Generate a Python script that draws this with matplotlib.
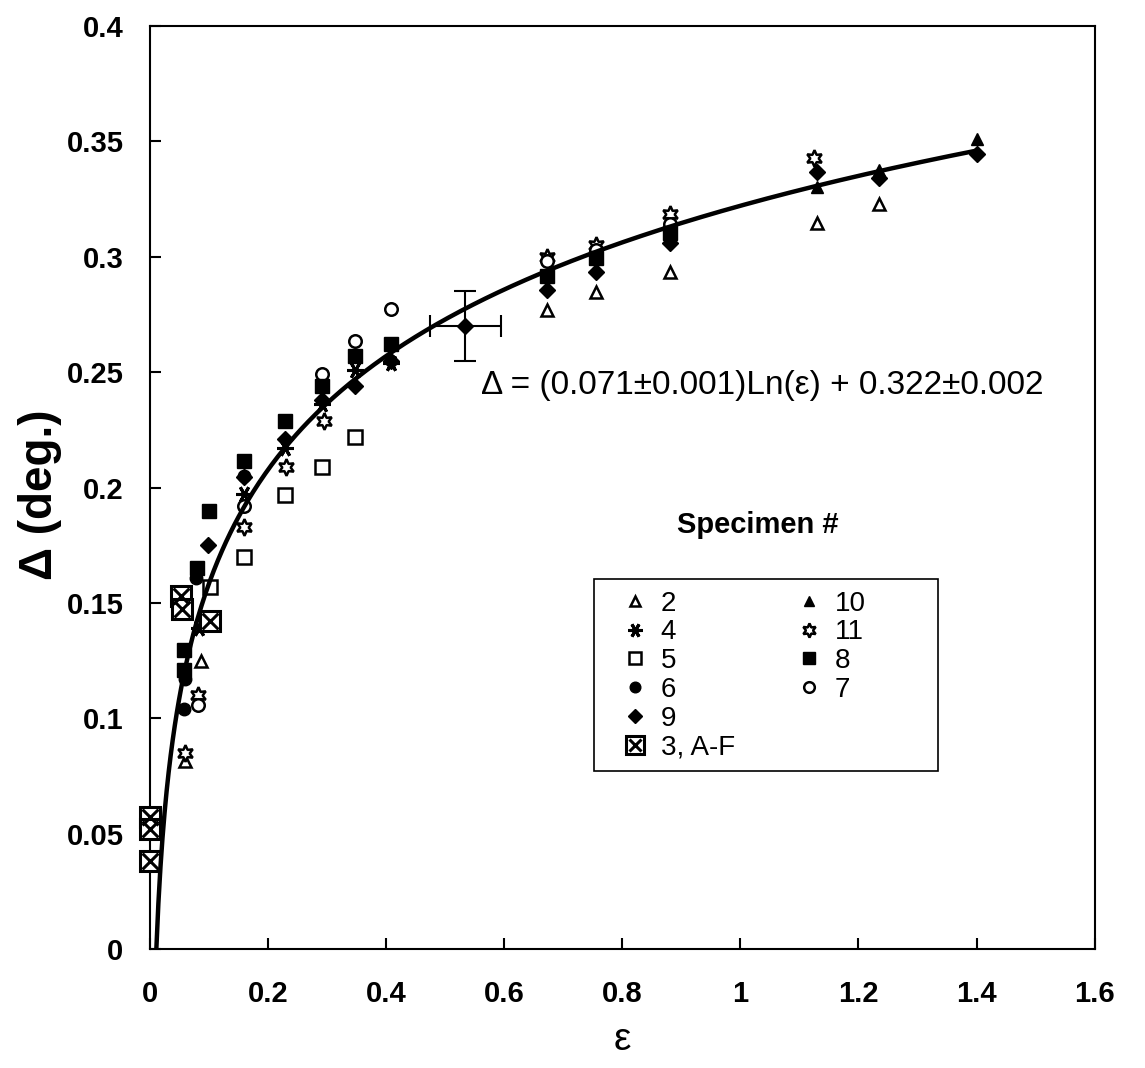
import numpy as np
import matplotlib
matplotlib.use("Agg")
import matplotlib.pyplot as plt
from matplotlib.lines import Line2D
from matplotlib.patches import Rectangle
from matplotlib.legend_handler import HandlerTuple

plt.rcParams['font.family'] = ['Liberation Sans', 'DejaVu Sans']

# ---------------- data ----------------
eps_2 = [0.059, 0.086, 0.673, 0.756, 0.881, 1.129, 1.234]
d_2   = [0.0815, 0.125, 0.277, 0.2845, 0.2935, 0.3144, 0.3226]

eps_4 = [0.083, 0.160, 0.228, 0.292, 0.347, 0.409]
d_4   = [0.139, 0.197, 0.217, 0.236, 0.2507, 0.254]

eps_5 = [0.102, 0.160, 0.228, 0.292, 0.347]
d_5   = [0.157, 0.170, 0.1966, 0.209, 0.2217]

eps_6 = [0.058, 0.060, 0.078, 0.160]
d_6   = [0.104, 0.117, 0.161, 0.205]

eps_9 = [0.099, 0.160, 0.228, 0.292, 0.347, 0.409, 0.673, 0.756, 0.881, 1.129, 1.234, 1.400]
d_9   = [0.175, 0.2044, 0.221, 0.238, 0.244, 0.255, 0.2854, 0.2935, 0.306, 0.3365, 0.334, 0.3444]

eps_3 = [0.0, 0.0, 0.0, 0.052, 0.054, 0.102]
d_3   = [0.0575, 0.052, 0.0385, 0.153, 0.1475, 0.142]

eps_10 = [1.129, 1.234, 1.400]
d_10   = [0.330, 0.3375, 0.351]

eps_11 = [0.059, 0.081, 0.160, 0.230, 0.294, 0.673, 0.756, 0.881, 1.125]
d_11   = [0.085, 0.110, 0.183, 0.2087, 0.229, 0.300, 0.305, 0.3185, 0.3426]

eps_8 = [0.057, 0.057, 0.079, 0.100, 0.160, 0.228, 0.292, 0.347, 0.409, 0.673, 0.756, 0.881]
d_8   = [0.1295, 0.121, 0.165, 0.190, 0.2113, 0.229, 0.2438, 0.257, 0.262, 0.2915, 0.2995, 0.310]

eps_7 = [0.081, 0.160, 0.292, 0.347, 0.409, 0.673, 0.756, 0.881]
d_7   = [0.106, 0.192, 0.249, 0.2636, 0.2775, 0.298, 0.303, 0.314]

# representative point with error bars
eb_eps, eb_d = [0.534], [0.270]
eb_xerr, eb_yerr = [0.06], [0.015]

# fit: Delta = 0.071 Ln(eps) + 0.322
fit_a, fit_b = 0.071, 0.322
fit_eps_max = 1.40

x_ticks = [0, 0.2, 0.4, 0.6, 0.8, 1.0, 1.2, 1.4, 1.6]
x_ticklabels = ['0', '0.2', '0.4', '0.6', '0.8', '1', '1.2', '1.4', '1.6']
y_ticks = [0, 0.05, 0.1, 0.15, 0.2, 0.25, 0.3, 0.35, 0.4]
y_ticklabels = ['0', '0.05', '0.1', '0.15', '0.2', '0.25', '0.3', '0.35', '0.4']

# ---------------- figure ----------------
fig = plt.figure(figsize=(11.45, 10.68), dpi=100)
ax = fig.add_axes([0.131, 0.111, 0.825, 0.865])

ms = 9
styles = {
    '2':  dict(marker='^', mfc='white', mec='black', ms=ms, mew=1.8),
    '4':  dict(marker=(6, 2, 90), mfc='black', mec='black', ms=ms+3, mew=2.2),
    '5':  dict(marker='s', mfc='white', mec='black', ms=ms+1, mew=1.8),
    '6':  dict(marker='o', mfc='black', mec='black', ms=ms),
    '9':  dict(marker='D', mfc='black', mec='black', ms=ms-1),
    '10': dict(marker='^', mfc='black', mec='black', ms=ms),
    '11': dict(marker=(6, 1, 0), mfc='white', mec='black', ms=ms+3, mew=1.8),
    '8':  dict(marker='s', mfc='black', mec='black', ms=ms+1),
    '7':  dict(marker='o', mfc='white', mec='black', ms=ms, mew=1.8),
}
sq3 = dict(marker='s', mfc='white', mec='black', ms=ms+6, mew=2.2)
x3 = dict(marker='x', color='black', ms=ms+2, mew=2.2)

series = [('2', eps_2, d_2), ('4', eps_4, d_4), ('5', eps_5, d_5),
          ('6', eps_6, d_6), ('11', eps_11, d_11), ('7', eps_7, d_7),
          ('8', eps_8, d_8), ('9', eps_9, d_9), ('10', eps_10, d_10)]

for name, xs, ys in series:
    ax.plot(xs, ys, ls='none', zorder=3, clip_on=False, **styles[name])

ax.plot(eps_3, d_3, ls='none', zorder=3, clip_on=False, **sq3)
ax.plot(eps_3, d_3, ls='none', zorder=4, clip_on=False, **x3)

ax.errorbar(eb_eps, eb_d, xerr=eb_xerr, yerr=eb_yerr, fmt='D', color='black',
            ms=ms - 1, elinewidth=1.5, capsize=8, capthick=1.5, zorder=4)

eps_fit = np.linspace(np.exp(-fit_b / fit_a), fit_eps_max, 400)
ax.plot(eps_fit, fit_a * np.log(eps_fit) + fit_b, color='black', lw=3.2, zorder=5)

ax.set_xlim(0, 1.6)
ax.set_ylim(0, 0.4)
ax.set_xticks(x_ticks)
ax.set_xticklabels(x_ticklabels)
ax.set_yticks(y_ticks)
ax.set_yticklabels(y_ticklabels)
ax.tick_params(direction='in', length=8, width=1.5, labelsize=21, top=False, right=False)
ax.tick_params(axis='y', pad=19)
ax.tick_params(axis='x', pad=22)
for lab in ax.get_xticklabels() + ax.get_yticklabels():
    lab.set_fontweight('bold')
for sp in ax.spines.values():
    sp.set_linewidth(1.5)

ax.set_xlabel('ε', fontsize=28, labelpad=10)
fig.text(40 / 1145, 1 - 495 / 1068, 'Δ (deg.)', rotation=90, fontsize=33,
         fontweight='bold', ha='center', va='center')

ax.text(0.648, 0.61, 'Δ = (0.071±0.001)Ln(ε) + 0.322±0.002', transform=ax.transAxes,
        ha='center', va='center', fontsize=24)
ax.text(0.643, 0.459, 'Specimen #', transform=ax.transAxes,
        ha='center', va='center', fontsize=21, fontweight='bold')

def h(name):
    return Line2D([], [], ls='none', **styles[name])

blank = Line2D([], [], ls='none', marker='none')
handles = [h('2'), h('4'), h('5'), h('6'), h('9'),
           (Line2D([], [], ls='none', **sq3), Line2D([], [], ls='none', **x3)),
           h('10'), h('11'), h('8'), h('7'), blank, blank]
labels = ['2', '4', '5', '6', '9', '3, A-F', '10', '11', '8', '7', '', '']

# legend frame (box drawn separately, wider than its content as in the original)
ax.add_patch(Rectangle((0.470, 0.1937), 0.364, 0.2078, transform=ax.transAxes,
                       fill=True, facecolor='white', edgecolor='black', lw=1.2,
                       zorder=6))
leg = ax.legend(handles, labels, ncol=2, loc='upper left',
                bbox_to_anchor=(0.4817, 0.4005), borderaxespad=0.0,
                fontsize=20, frameon=False,
                handletextpad=0.25, labelspacing=0.1, borderpad=0.4,
                columnspacing=2.0, handler_map={tuple: HandlerTuple(ndivide=1)},
                markerscale=0.85, handlelength=1.35)
leg.set_zorder(7)

fig.savefig('out.png', dpi=100)
